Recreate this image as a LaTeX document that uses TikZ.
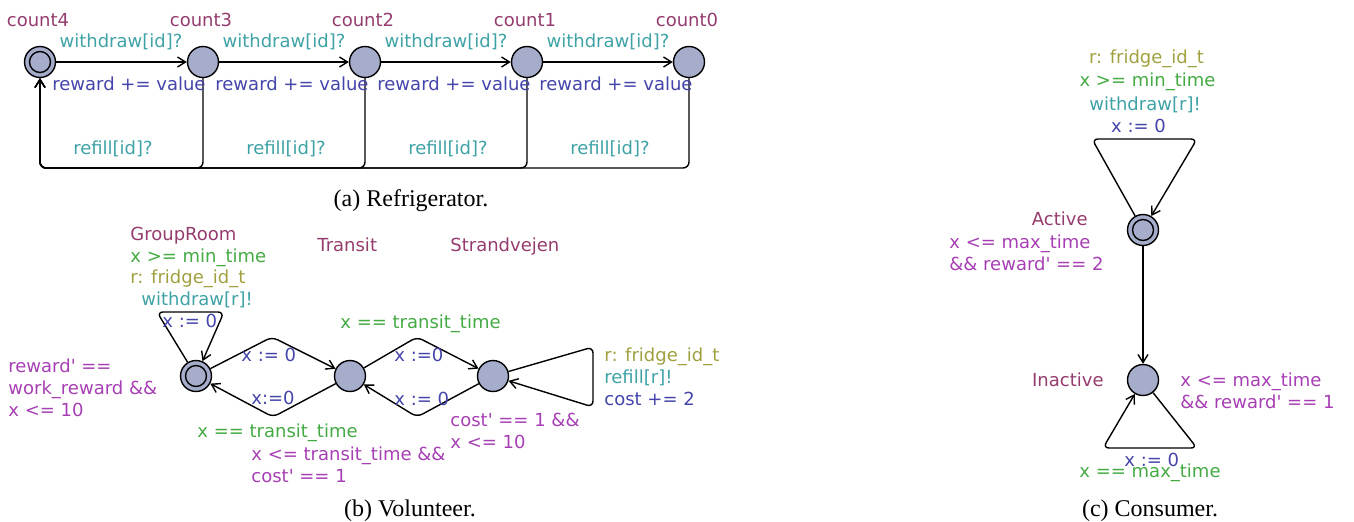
\documentclass[tikz,border=0pt]{standalone}
\usepackage{fontspec}
\setmainfont{Liberation Serif}
\newfontfamily\uppaal[Ligatures=TeXOff]{DejaVu Sans}
\usetikzlibrary{arrows.meta,positioning}
\definecolor{locname}{HTML}{953C6E}
\definecolor{guardcol}{HTML}{44AA44}
\definecolor{selectcol}{HTML}{A0A040}
\definecolor{synccol}{HTML}{3FA2A6}
\definecolor{updatecol}{HTML}{4444AA}
\definecolor{invcol}{HTML}{A63FB3}
\definecolor{locfill}{HTML}{A5ADCB}

\tikzset{
  loc/.style={circle, draw, fill=locfill, line width=0.7pt, minimum size=15.5pt, inner sep=0pt},
  initloc/.style={circle, draw, line width=0.7pt, minimum size=10.5pt, inner sep=0pt},
  lbl/.style={font=\uppaal\fontsize{9}{11}\selectfont, inner sep=0pt, align=left},
  namelbl/.style={lbl, text=locname},
  guardlbl/.style={lbl, text=guardcol},
  selectlbl/.style={lbl, text=selectcol},
  synclbl/.style={lbl, text=synccol},
  updatelbl/.style={lbl, text=updatecol},
  invlbl/.style={lbl, text=invcol},
  edge/.style={->, line width=0.7pt, rounded corners=3pt},
  caption/.style={font=\fontsize{12}{14}\selectfont, inner sep=0pt}
}

\begin{document}
\begin{tikzpicture}[x=0.5pt, y=-0.5pt, >={Straight Barb[length=4pt,width=5pt]}]
  \useasboundingbox (0,0) rectangle (1354,521);

  % refrigerator
  \foreach \n/\x in {4/40, 3/203, 2/365, 1/527, 0/689} {
    \node[loc] (c\n) at (\x,62) {};
    \node[namelbl, anchor=base] (c\n-name) at (\x-2,26) {count\n};
  }
  \node[initloc] (c4-init) at (c4) {};

  \coordinate (refill) at (40,168);
  \foreach \a/\b/\x/\lx in {4/3/40/113, 3/2/203/286, 2/1/365/448, 1/0/527/610} {
    \draw[edge] (c\a) -- (c\b);
    \draw[edge] (c\b) |- (refill) -- (c4);
    \node[synclbl, anchor=base] (w\a) at (\x+81,47) {withdraw[id]?};
    \node[updatelbl, anchor=base west] (u\a) at (\x+12,90) {reward += value};
    \node[synclbl, anchor=base] (r\a) at (\lx,154) {refill[id]?};
  }
  \node[caption, anchor=base] (cap-a) at (411,206.5) {(a) Refrigerator.};

  % volunteer
  \node[loc] (gr) at (196,376) {};
  \node[initloc] (gr-init) at (gr) {};
  \node[loc] (tr) at (350,376) {};
  \node[loc] (sv) at (493,376) {};

  \node[namelbl, anchor=base west] (gr-name) at (130,240) {GroupRoom};
  \node[namelbl, anchor=base west] (tr-name) at (317,251) {Transit};
  \node[namelbl, anchor=base west] (sv-name) at (450,251) {Strandvejen};

  \coordinate (gr-l) at (157,312);
  \coordinate (gr-r) at (224,312);
  \coordinate (gt-up) at (272,337);
  \coordinate (gt-dn) at (273,417);
  \coordinate (ts-up) at (417,337);
  \coordinate (ts-dn) at (417,417);
  \coordinate (sv-t) at (593,347);
  \coordinate (sv-b) at (593,407);

  \draw[edge] (gr) -- (gr-l) -- (gr-r) -- (gr);
  \draw[edge] (gr) -- (gt-up) -- (tr);
  \draw[edge] (tr) -- (gt-dn) -- (gr);
  \draw[edge] (tr) -- (ts-up) -- (sv);
  \draw[edge] (sv) -- (ts-dn) -- (tr);
  \draw[edge] (sv) -- (sv-t) -- (sv-b) -- (sv);

  \node[guardlbl, anchor=base west] (gr-g) at (130,262) {x >= min\_time};
  \node[selectlbl, anchor=base west] (gr-s) at (130,283) {r: fridge\_id\_t};
  \node[synclbl, anchor=base west] (gr-w) at (141,305.5) {withdraw[r]!};
  \node[updatelbl, anchor=base west] (gr-u) at (162,327.5) {x := 0};
  % multi-line labels sit on the baseline of their last line
  \node[invlbl, anchor=base west] (gr-inv) at (8,416) {reward' ==\\work\_reward \&\&\\x <= 10};

  \node[updatelbl, anchor=base west] (gt-u) at (241,361.5) {x := 0};
  \node[updatelbl, anchor=base west] (tg-u) at (251,404) {x:=0};
  \node[guardlbl, anchor=base west] (tg-g) at (197,437.5) {x == transit\_time};
  \node[invlbl, anchor=base west] (tr-inv) at (251,482) {x <= transit\_time \&\&\\cost' == 1};

  \node[guardlbl, anchor=base west] (ts-g) at (340,328.5) {x == transit\_time};
  \node[updatelbl, anchor=base west] (ts-u) at (394,361.5) {x :=0};
  \node[updatelbl, anchor=base west] (st-u) at (394,405) {x := 0};

  \node[selectlbl, anchor=base west] (sv-s) at (604,361.5) {r: fridge\_id\_t};
  \node[synclbl, anchor=base west] (sv-w) at (604,383.5) {refill[r]!};
  \node[updatelbl, anchor=base west] (sv-u) at (604,405) {cost += 2};
  \node[invlbl, anchor=base west] (sv-inv) at (450,448.5) {cost' == 1 \&\&\\x <= 10};

  \node[caption, anchor=base] (cap-b) at (410,516.5) {(b) Volunteer.};

  % consumer
  \node[loc] (ac) at (1143,230) {};
  \node[initloc] (ac-init) at (ac) {};
  \node[loc] (ia) at (1143,380) {};

  \coordinate (ac-l) at (1092,139);
  \coordinate (ac-r) at (1197,139);
  \coordinate (ia-r) at (1197,448);
  \coordinate (ia-l) at (1103,448);

  \draw[edge] (ac) -- (ac-l) -- (ac-r) -- (ac);
  \draw[edge] (ac) -- (ia);
  \draw[edge] (ia) -- (ia-r) -- (ia-l) -- (ia);

  \node[selectlbl, anchor=base] (ac-s) at (1146.5,63.5) {r: fridge\_id\_t};
  \node[guardlbl, anchor=base] (ac-g) at (1147.5,86.5) {x >= min\_time};
  \node[synclbl, anchor=base] (ac-w) at (1145,110) {withdraw[r]!};
  \node[updatelbl, anchor=base] (ac-u) at (1138.5,132) {x := 0};
  \node[namelbl, anchor=base east] (ac-name) at (1088,225) {Active};
  \node[invlbl, anchor=base west] (ac-inv) at (949,270.5) {x <= max\_time\\\&\& reward' == 2};

  \node[namelbl, anchor=base east] (ia-name) at (1104,386.5) {Inactive};
  \node[invlbl, anchor=base west] (ia-inv) at (1180,408.5) {x <= max\_time\\\&\& reward' == 1};
  \node[updatelbl, anchor=base west] (ia-u) at (1124,466) {x := 0};
  \node[guardlbl, anchor=base] (ia-g) at (1150,477.5) {x == max\_time};

  \node[caption, anchor=base] (cap-c) at (1150,516.5) {(c) Consumer.};
\end{tikzpicture}
\end{document}
